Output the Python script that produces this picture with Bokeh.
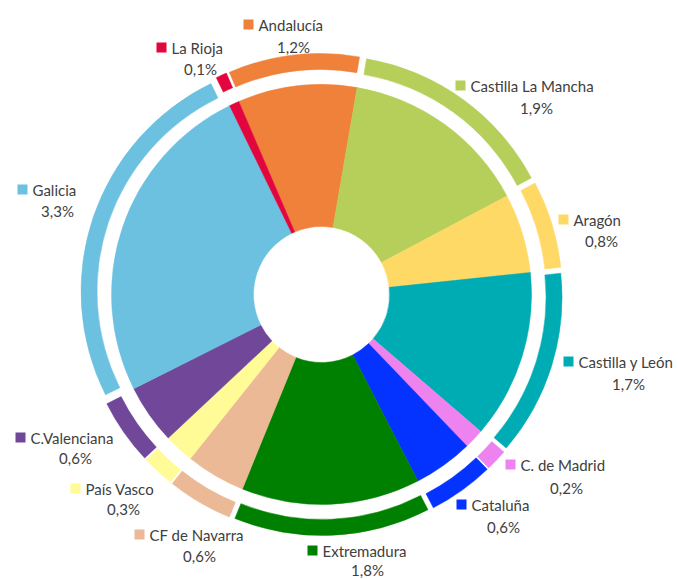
import numpy as np
from bokeh.plotting import figure
from bokeh.models import Range1d, ColumnDataSource
from bokeh.embed import file_html
from bokeh.resources import INLINE
from bokeh.core.properties import value

# ---- data ----
regions = ["Andalucía", "Castilla La Mancha", "Aragón", "Castilla y León",
           "C. de Madrid", "Cataluña", "Extremadura", "CF de Navarra",
           "País Vasco", "C.Valenciana", "Galicia", "La Rioja"]
shares = [1.2, 1.9, 0.8, 1.7, 0.2, 0.6, 1.8, 0.6, 0.3, 0.6, 3.3, 0.1]
share_labels = [f"{v:.1f}%".replace(".", ",") for v in shares]

# ---- styles / layout ----
colors = ["#F0813A", "#B5CF5A", "#FFD966", "#00ACB3", "#EE82EE", "#0433FF",
          "#008000", "#EBB995", "#FFFB96", "#71479A", "#6CC1E0", "#E3063E"]
# label anchors in page pixels: (square centre x, y, percentage centre x, y)
label_pos = [(248, 24, 293, 46), (460, 85, 536, 107), (563, 219, 601, 240),
             (568, 361, 628, 383), (510, 464, 566, 487), (461, 504, 503, 526),
             (312, 550, 367, 569), (139, 534, 199, 555), (75, 488, 123, 508),
             (20, 437, 75, 457), (22, 189, 57, 210), (161, 47, 200, 68)]

W, H = 678, 579
def px(x):
    return x
def py(y):
    return H - y

cx, cy = px(321), py(294)
start_cw = -23.2  # degrees clockwise from 12 o'clock
r_hole, r_pie = 68, 210
ring_in, ring_out, explode = 215, 231, 10

vals = np.array(shares, dtype=float)
frac = vals / vals.sum()
cum = np.concatenate([[0], np.cumsum(frac)])
a0 = start_cw + cum[:-1] * 360.0
a1 = start_cw + cum[1:] * 360.0
mid = (a0 + a1) / 2.0

start_angle = np.radians(90.0 - a1)
end_angle = np.radians(90.0 - a0)

p = figure(width=W, height=H, x_range=Range1d(0, W), y_range=Range1d(0, H),
           output_backend="svg", toolbar_location=None, min_border=0)
p.axis.visible = False
p.grid.visible = False
p.outline_line_color = None
p.background_fill_color = "white"

pie_src = ColumnDataSource(dict(start=start_angle, end=end_angle, color=colors))
p.annular_wedge(x=cx, y=cy, inner_radius=r_hole, outer_radius=r_pie,
                start_angle="start", end_angle="end", fill_color="color",
                line_color="color", line_width=0.5, source=pie_src)

ring_src = ColumnDataSource(dict(
    x=cx + explode * np.sin(np.radians(mid)),
    y=cy + explode * np.cos(np.radians(mid)),
    start=start_angle, end=end_angle, color=colors))
p.annular_wedge(x="x", y="y", inner_radius=ring_in, outer_radius=ring_out,
                start_angle="start", end_angle="end", fill_color="color",
                line_color="color", line_width=0.5, source=ring_src)

sq_x = [px(l[0]) for l in label_pos]
sq_y = [py(l[1]) for l in label_pos]
name_x = [px(l[0]) + 10 for l in label_pos]
pc_x = [px(l[2]) for l in label_pos]
pc_y = [py(l[3]) for l in label_pos]

lab_src = ColumnDataSource(dict(sx=sq_x, sy=sq_y, nx=name_x, px=pc_x, py=pc_y,
                                name=regions, pct=share_labels, color=colors))
p.scatter(x="sx", y="sy", marker="square", size=10, fill_color="color",
          line_color=None, source=lab_src)
p.text(x="nx", y="sy", text="name", text_align="left", text_baseline="middle",
       text_font=value("Lato"), text_font_size="15px", text_color="#404040",
       source=lab_src)
p.text(x="px", y="py", text="pct", text_align="center", text_baseline="middle",
       text_font=value("Lato"), text_font_size="15px", text_color="#404040",
       source=lab_src)

open("out.html", "w").write(file_html(p, INLINE))
